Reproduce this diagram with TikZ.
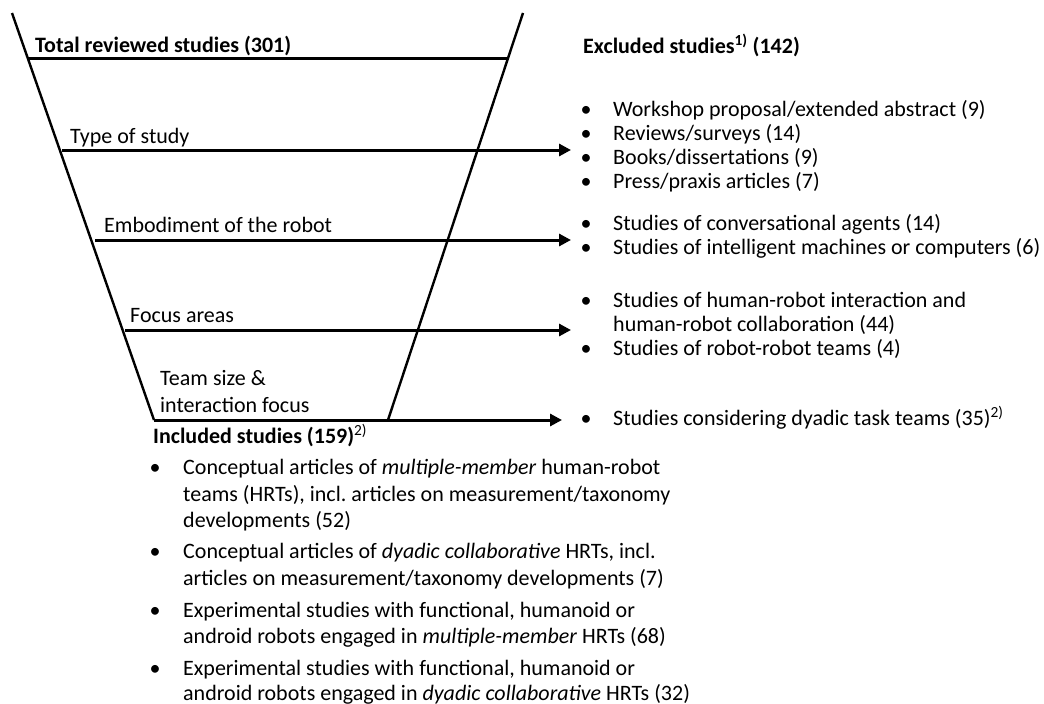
\documentclass[tikz,border=0pt]{standalone}
\usepackage{fontspec}
\setmainfont{Carlito}
\usetikzlibrary{arrows.meta}
\frenchspacing
\begin{document}
\begin{tikzpicture}[x=1pt,y=-1pt,
  txt/.style={inner sep=0pt, anchor=base west, font=\fontsize{22}{26}\selectfont},
  bul/.style={inner sep=0pt, anchor=base, font=\fontsize{22}{26}\selectfont},
  funnel/.style={line width=2.4pt},
  bar/.style={line width=3pt},
  flow/.style={line width=3pt, -{Triangle[length=12pt,width=12pt]}}]
\useasboundingbox (0,0) rectangle (1044,704);

% funnel outline
\coordinate (lt) at (12,13);
\coordinate (lb) at (154,420);
\coordinate (rt) at (523,13);
\coordinate (rb) at (388,420);
\draw[funnel] (lt) -- (lb);
\draw[funnel] (rt) -- (rb);

% top bar
\coordinate (tl) at (27.7,58);
\coordinate (tr) at (508.1,58);
\draw[bar] (tl) -- (tr);

% screening steps
\coordinate (s1) at (62,150);  \coordinate (e1) at (571,150);
\coordinate (s2) at (95,240);  \coordinate (e2) at (571,240);
\coordinate (s3) at (125,330); \coordinate (e3) at (571,330);
\coordinate (e4) at (562,420);
\draw[flow] (s1) -- (e1);
\draw[flow] (s2) -- (e2);
\draw[flow] (s3) -- (e3);
\draw[flow] (lb) -- (e4);

% left labels
\node[txt] (total) at (35,52) {\bfseries Total reviewed studies (301)};
\node[txt] (type) at (70,143) {Type of study};
\node[txt] (embod) at (104,232) {Embodiment of the robot};
\node[txt] (focus) at (130,322) {Focus areas};
\node[txt] (team1) at (160,385) {Team size \&};
\node[txt] (team2) at (160,412) {interaction focus};

% excluded studies
\node[txt] (exhead) at (583,53) {\bfseries Excluded studies\textsuperscript{1)} (142)};
\node[bul] (b1) at (586,116) {•};
\node[txt] (x1) at (613,116) {Workshop proposal/extended abstract (9)};
\node[bul] (b2) at (586,140) {•};
\node[txt] (x2) at (613,140) {Reviews/surveys (14)};
\node[bul] (b3) at (586,164) {•};
\node[txt] (x3) at (613,164) {Books/dissertations (9)};
\node[bul] (b4) at (586,188) {•};
\node[txt] (x4) at (613,188) {Press/praxis articles (7)};
\node[bul] (b5) at (586,230) {•};
\node[txt] (x5) at (613,230) {Studies of conversational agents (14)};
\node[bul] (b6) at (586,254) {•};
\node[txt] (x6) at (613,254) {Studies of intelligent machines or computers (6)};
\node[bul] (b7) at (586,307) {•};
\node[txt] (x7) at (613,307) {Studies of human-robot interaction and};
\node[txt] (x7b) at (613,331) {human-robot collaboration (44)};
\node[bul] (b8) at (586,355) {•};
\node[txt] (x8) at (613,355) {Studies of robot-robot teams (4)};
\node[bul] (b9) at (586,425) {•};
\node[txt] (x9) at (613,425) {Studies considering dyadic task teams (35)\textsuperscript{2)}};

% included studies
\node[txt] (inhead) at (153,443) {\bfseries Included studies (159)\textsuperscript{\mdseries 2)}};
\node[bul] (c1) at (155,474) {•};
\node[txt] (i1) at (183,474) {Conceptual articles of \textit{multiple-member} human-robot};
\node[txt] (i1b) at (183,501) {teams (HRTs), incl. articles on measurement/taxonomy};
\node[txt] (i1c) at (183,527) {developments (52)};
\node[bul] (c2) at (155,558) {•};
\node[txt] (i2) at (183,558) {Conceptual articles of \textit{dyadic collaborative} HRTs, incl.};
\node[txt] (i2b) at (183,585) {articles on measurement/taxonomy developments (7)};
\node[bul] (c3) at (155,617) {•};
\node[txt] (i3) at (183,617) {Experimental studies with functional, humanoid or};
\node[txt] (i3b) at (183,643) {android robots engaged in \textit{multiple-member} HRTs (68)};
\node[bul] (c4) at (155,675) {•};
\node[txt] (i4) at (183,675) {Experimental studies with functional, humanoid or};
\node[txt] (i4b) at (183,700) {android robots engaged in \textit{dyadic collaborative} HRTs (32)};
\end{tikzpicture}
\end{document}
